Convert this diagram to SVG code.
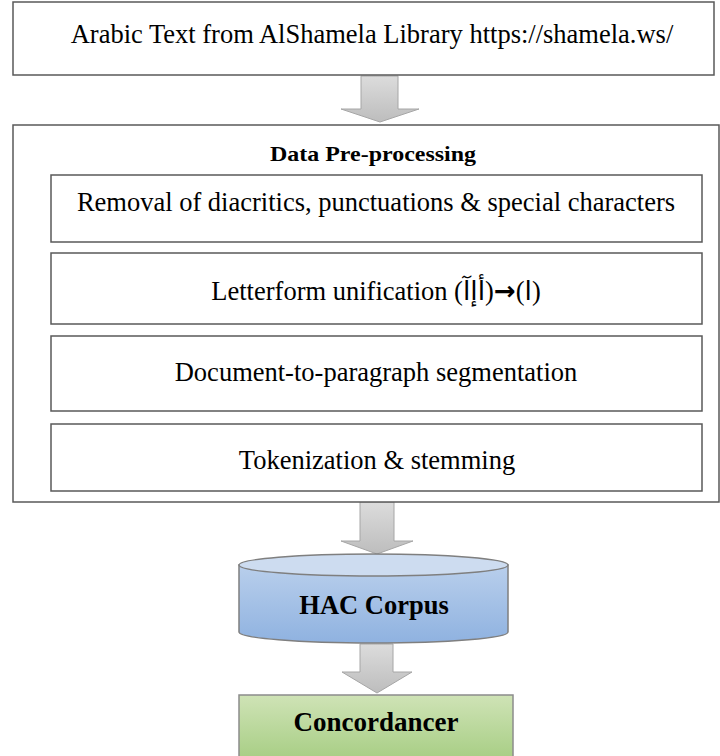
<svg xmlns="http://www.w3.org/2000/svg" width="720" height="756" viewBox="0 0 720 756">
<defs>
<linearGradient id="arrowGrad" x1="0" y1="0" x2="0" y2="1">
<stop offset="0" stop-color="#dcdcdc"/>
<stop offset="1" stop-color="#bdbdbd"/>
</linearGradient>
<linearGradient id="cylGrad" x1="0" y1="0" x2="0" y2="1">
<stop offset="0" stop-color="#b9cfec"/>
<stop offset="1" stop-color="#8fb2e0"/>
</linearGradient>
<linearGradient id="greenGrad" x1="0" y1="0" x2="0" y2="1">
<stop offset="0" stop-color="#cfe3b6"/>
<stop offset="1" stop-color="#a4cc80"/>
</linearGradient>
<style>
.box{fill:#ffffff;stroke:#595959;stroke-width:1.5}
.arrow{fill:url(#arrowGrad);stroke:#a6a6a6;stroke-width:1}
.t{font-family:"Liberation Serif","DejaVu Serif","DejaVu Sans",serif;fill:#000;text-anchor:middle}
.n{font-size:26.5px}
.b{font-weight:bold}
</style>
</defs>
<g id="connectors">
<path class="arrow" d="M361,76 H398 V109 H419 L380,122 L341,109 H361 Z"/>
<path class="arrow" d="M360,502 H394 V541 H413 L377,554 L341,541 H360 Z"/>
<path class="arrow" d="M360,644 H393 V672 H412 L377,693 L342,672 H360 Z"/>
</g>
<g id="source">
<rect class="box" x="13" y="2" width="701" height="73"/>
<text class="t n" x="372" y="43">Arabic Text from AlShamela Library https://shamela.ws/</text>
</g>
<g id="preprocessing">
<rect class="box" x="13" y="125" width="706" height="377"/>
<text class="t b" x="373" y="161" font-size="21" textLength="206" lengthAdjust="spacingAndGlyphs">Data Pre-processing</text>
</g>
<g id="removal">
<rect class="box" x="51" y="175" width="651" height="67"/>
<text class="t n" x="376" y="211">Removal of diacritics, punctuations &amp; special characters</text>
</g>
<g id="letterform">
<rect class="box" x="51" y="253" width="651" height="71"/>
<text class="t n" x="376" y="300">Letterform unification (أإآ&#x200E;)<tspan font-family="DejaVu Sans" font-weight="bold" font-size="26">→</tspan>(ا&#x200E;)</text>
</g>
<g id="segmentation">
<rect class="box" x="51" y="336" width="651" height="75"/>
<text class="t n" x="376" y="381">Document-to-paragraph segmentation</text>
</g>
<g id="tokenization">
<rect class="box" x="51" y="424" width="651" height="67"/>
<text class="t n" x="377" y="469">Tokenization &amp; stemming</text>
</g>
<g id="corpus">
<path d="M239,565 V632 A134.5,11 0 0 0 508,632 V565 Z" fill="url(#cylGrad)" stroke="#7f7f7f" stroke-width="1.5"/>
<ellipse cx="373.5" cy="565" rx="134.5" ry="11" fill="#cddcf0" stroke="#7f7f7f" stroke-width="1.5"/>
<text class="t b" x="374" y="614" font-size="26.5">HAC Corpus</text>
</g>
<g id="concordancer">
<rect x="239" y="695" width="274" height="70" fill="url(#greenGrad)" stroke="#8c8c8c" stroke-width="1.5"/>
<text class="t b" x="376" y="731" font-size="27">Concordancer</text>
</g>
</svg>
